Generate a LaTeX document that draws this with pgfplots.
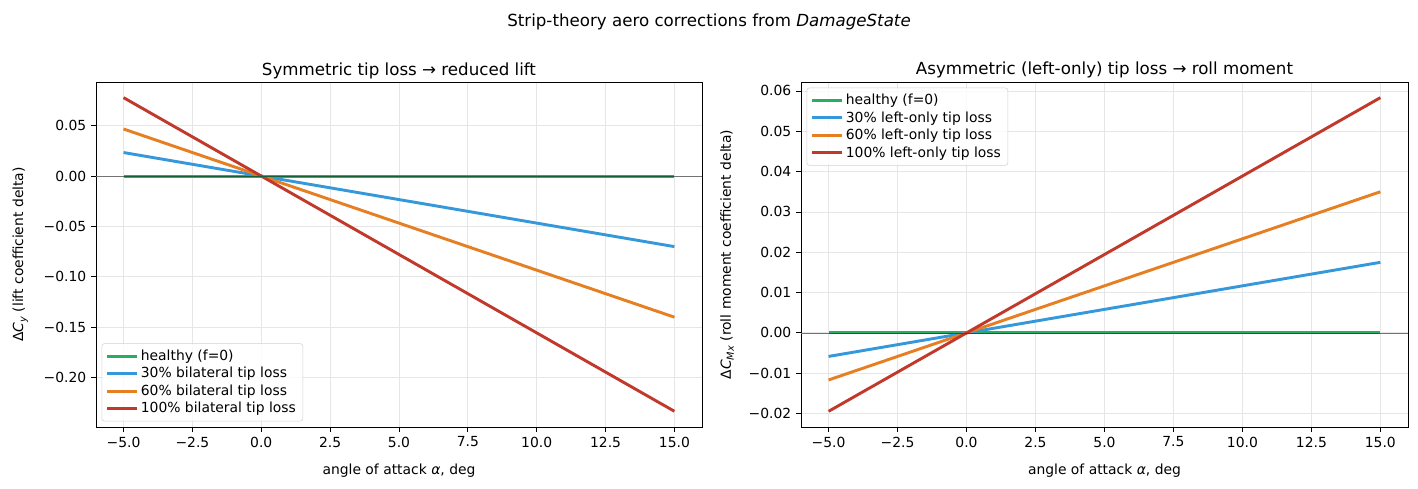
\documentclass[border=0pt]{standalone}
\usepackage{fontspec}
\setmainfont{DejaVu Sans}
\usepackage{pgfplots}
\pgfplotsset{compat=1.18}
\definecolor{cg}{HTML}{27AE60}
\definecolor{cb}{HTML}{3498DB}
\definecolor{co}{HTML}{E67E22}
\definecolor{cr}{HTML}{C0392B}
\definecolor{gridc}{HTML}{E6E6E6}
\newcommand\sub[1]{\raisebox{-0.4ex}{\fontsize{7}{8}\selectfont\textit{#1}}}
\pgfplotsset{
  myax/.style={
    scale only axis,
    height=248.4pt,
    xmin=-6, xmax=16,
    scaled y ticks=false, scaled x ticks=false,
    grid=major,
    major grid style={gridc, line width=0.6pt},
    axis line style={black, line width=0.6pt},
    tick style={black, line width=0.6pt},
    major tick length=3.5pt,
    tick align=outside,
    xtick pos=bottom, ytick pos=left,
    xtick={-5,-2.5,0,2.5,5,7.5,10,12.5,15},
    xticklabels={−5.0,−2.5,0.0,2.5,5.0,7.5,10.0,12.5,15.0},
    ticklabel style={font=\fontsize{10}{12}\selectfont},
    label style={font=\fontsize{10}{12}\selectfont},
    title style={font=\fontsize{12}{14}\selectfont, yshift=-7pt},
    xlabel={angle of attack \textit{α}, deg},
    xlabel style={yshift=-5pt},
    legend cell align=left,
    legend style={font=\fontsize{10}{12}\selectfont, draw=gray!35, rounded corners=2pt,
      fill=white, fill opacity=0.8, text opacity=1, inner xsep=3pt, inner ysep=2.5pt,
      row sep=-0.5pt},
    legend image code/.code={\draw[line width=2.1pt] (0pt,0pt) -- (21pt,0pt);},
    every axis plot/.append style={line width=2.1pt},
  }
}
\begin{document}
\begin{tikzpicture}
\path[use as bounding box] (0,0) rectangle (1020.96pt,352.08pt);
\node[font=\fontsize{12}{14}\selectfont] at (510.5pt,336.5pt) {Strip-theory aero corrections from \textit{DamageState}};
\begin{axis}[myax,
  at={(69.12pt,44.64pt)}, anchor=south west,
  width=436.3pt,
  ymin=-0.2489, ymax=0.0933,
  ytick={-0.20,-0.15,-0.10,-0.05,0,0.05},
  yticklabels={−0.20,−0.15,−0.10,−0.05,0.00,0.05},
  ylabel={Δ\textit{C}\sub{y} (lift coefficient delta)},
  ylabel style={at={(axis description cs:-0.1249,0.5)}, anchor=center},
  title={Symmetric tip loss → reduced lift},
  legend style={at={(0,0)}, anchor=south west, xshift=4pt, yshift=4pt},
]
\addplot[cg] coordinates {(-5,0) (15,0)};
\addlegendentry{healthy (f=0)}
\addplot[cb] coordinates {(-5,0.02333) (15,-0.07)};
\addlegendentry{30\% bilateral tip loss}
\addplot[co] coordinates {(-5,0.04667) (15,-0.14)};
\addlegendentry{60\% bilateral tip loss}
\addplot[cr] coordinates {(-5,0.07778) (15,-0.23333)};
\addlegendentry{100\% bilateral tip loss}
\addplot[black!55, line width=0.4pt, forget plot] coordinates {(-6,0) (-5,0)};
\addplot[cg!55!black, line width=0.4pt, forget plot] coordinates {(-5,0) (15,0)};
\addplot[black!55, line width=0.4pt, forget plot] coordinates {(15,0) (16,0)};
\end{axis}
\begin{axis}[myax,
  at={(576.72pt,44.64pt)}, anchor=south west,
  width=437.0pt,
  ymin=-0.02333, ymax=0.06222,
  ytick={-0.02,-0.01,0,0.01,0.02,0.03,0.04,0.05,0.06},
  yticklabels={−0.02,−0.01,0.00,0.01,0.02,0.03,0.04,0.05,0.06},
  ylabel={Δ\textit{C}\sub{Mx} (roll moment coefficient delta)},
  ylabel style={at={(axis description cs:-0.1219,0.5)}, anchor=center},
  title={Asymmetric (left-only) tip loss → roll moment},
  legend style={at={(0,1)}, anchor=north west, xshift=4pt, yshift=-4pt},
]
\addplot[cg] coordinates {(-5,0) (15,0)};
\addlegendentry{healthy (f=0)}
\addplot[cb] coordinates {(-5,-0.005833) (15,0.0175)};
\addlegendentry{30\% left-only tip loss}
\addplot[co] coordinates {(-5,-0.011667) (15,0.035)};
\addlegendentry{60\% left-only tip loss}
\addplot[cr] coordinates {(-5,-0.019444) (15,0.058333)};
\addlegendentry{100\% left-only tip loss}
\addplot[black!55, line width=0.4pt, forget plot] coordinates {(-6,0) (-5,0)};
\addplot[cg!55!black, line width=0.4pt, forget plot] coordinates {(-5,0) (15,0)};
\addplot[black!55, line width=0.4pt, forget plot] coordinates {(15,0) (16,0)};
\end{axis}
\end{tikzpicture}
\end{document}
